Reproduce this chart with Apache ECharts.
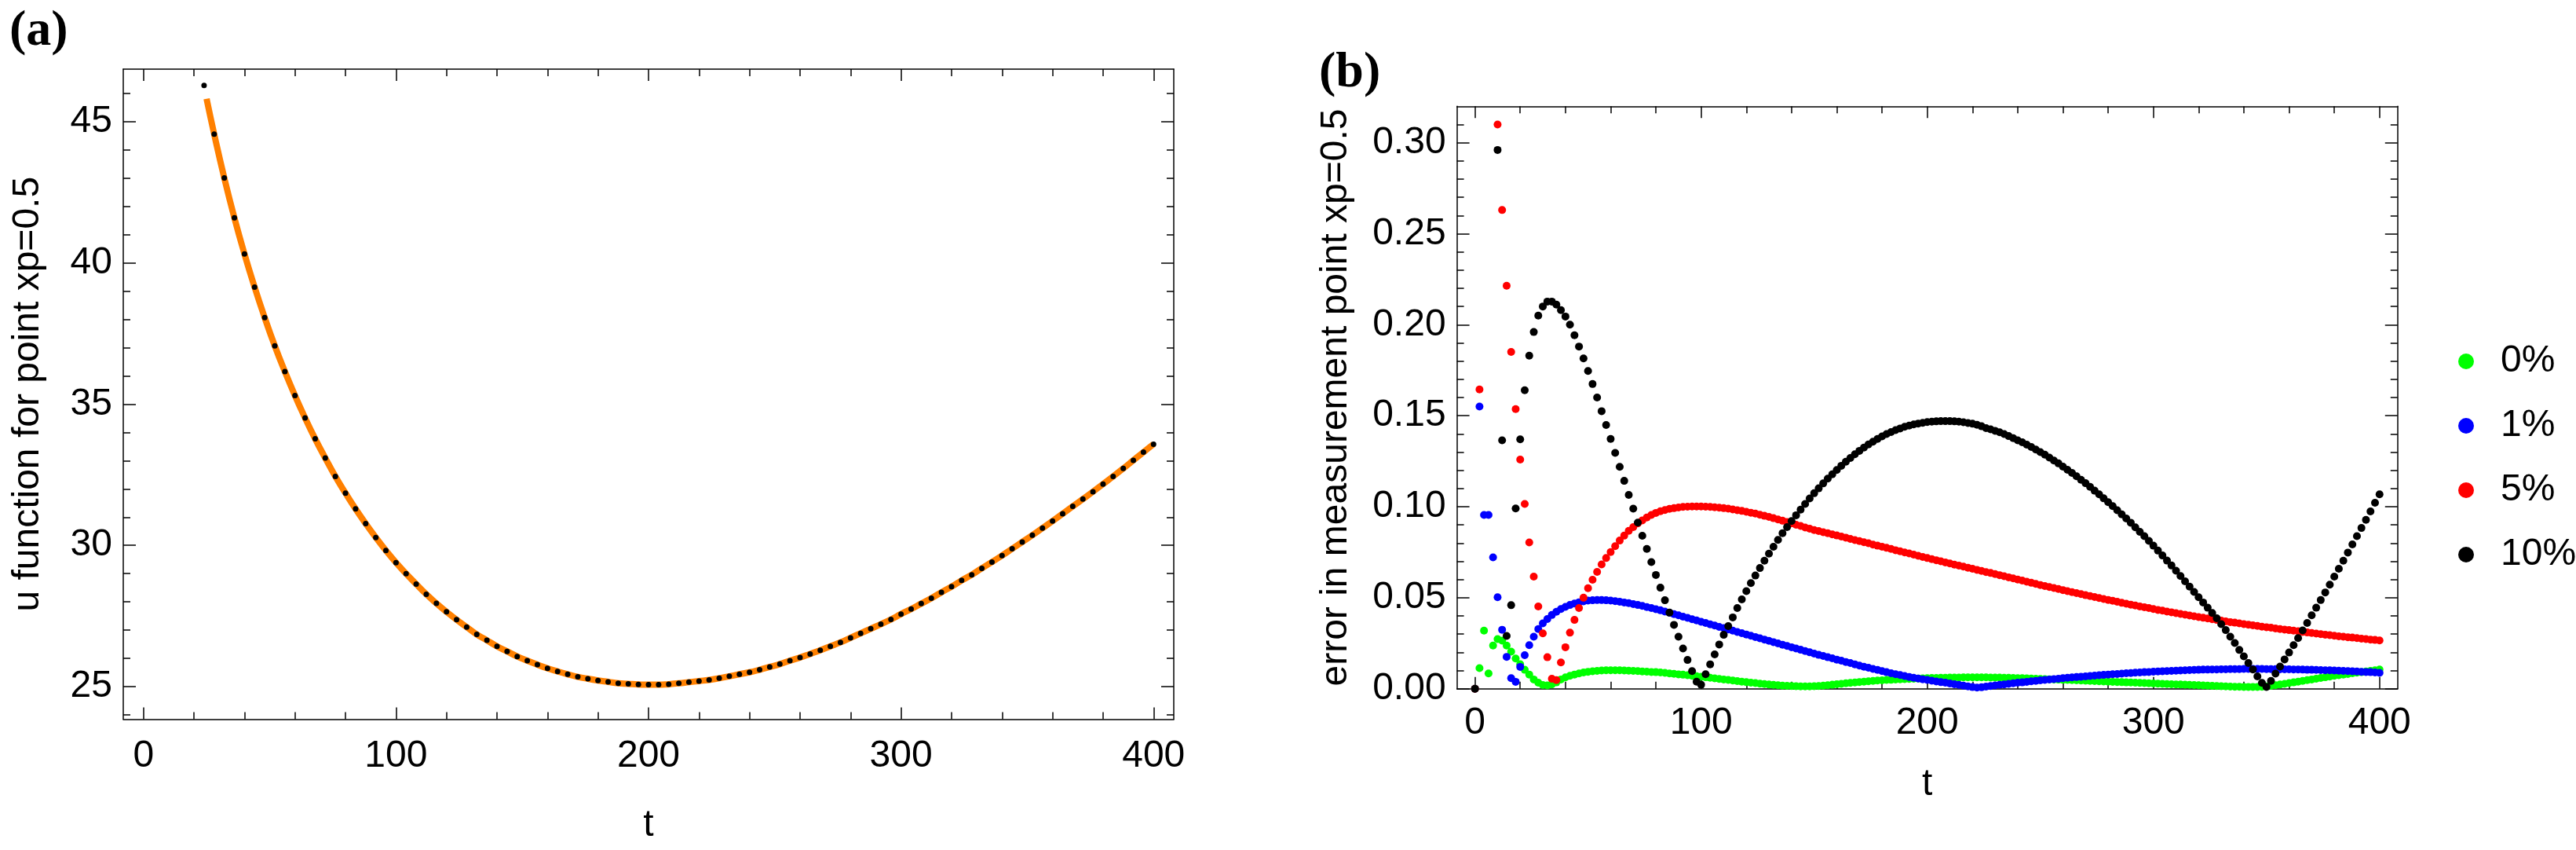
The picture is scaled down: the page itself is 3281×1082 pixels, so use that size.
<!DOCTYPE html>
<html>
<head>
<meta charset="utf-8">
<script src="https://cdn.jsdelivr.net/npm/echarts@6/dist/echarts.min.js"></script>
<style>
html,body{margin:0;padding:0;background:#fff;}
#main{width:3281px;height:1082px;}
</style>
</head>
<body>
<div id="main"></div>
<script>
// ---------- DATA ----------
// Panel (a): sampled u at xp=0.5, t = 24, 28, ..., 400
const tAStart = 24, tAStep = 4;
const uDots = [46.27,44.55,43.00,41.59,40.31,39.14,38.06,37.06,36.15,35.30,
  34.51,33.77,33.09,32.44,31.85,31.29,30.77,30.28,29.82,29.39,
  29.00,28.63,28.27,27.95,27.65,27.37,27.11,26.85,26.64,26.43,
  26.25,26.07,25.92,25.78,25.65,25.54,25.44,25.35,25.28,25.22,
  25.17,25.12,25.10,25.08,25.07,
  25.07,25.09,25.12,25.16,25.20,25.24,25.30,25.37,25.44,25.51,
  25.60,25.70,25.80,25.92,26.03,26.16,26.29,26.43,26.57,26.73,
  26.89,27.05,27.21,27.38,27.57,27.75,27.94,28.13,28.34,28.54,
  28.76,28.96,29.19,29.41,29.64,29.88,30.12,30.36,30.61,30.86,
  31.12,31.38,31.64,31.90,32.17,32.44,32.72,33.01,33.30,33.58];
const lineStart = [25, 45.80];

// Panel (b): errors, t = 0, 2, ..., 400
const tBStep = 2;
const err0 = [0,0.0113,0.0319,0.0084,0.0237,0.0273,0.0264,0.0237,0.0204,0.0166,
  0.0135,0.0104,0.0078,0.0051,0.0033,0.0020,0.0018,0.0024,0.0035,0.0051,
  0.0062,0.0071,0.0078,0.0084,0.0089,0.0093,0.0096,0.0098,0.0100,0.0101,
  0.0101,0.0101,0.0101,0.0100,0.0099,0.0098,0.0097,0.0095,0.0094,0.0092,
  0.0091,0.0089,0.0087,0.0084,0.0082,0.0079,0.0077,0.0074,0.0071,0.0069,
  0.0066,0.0063,0.0060,0.0057,0.0054,0.0051,0.0048,0.0045,0.0042,0.0039,
  0.0036,0.0033,0.0031,0.0028,0.0026,0.0023,0.0021,0.0019,0.0017,0.0016,
  0.0015,0.0014,0.0013,0.0013,0.0013,0.0014,0.0015,0.0017,0.0019,0.0022,
  0.0025,0.0027,0.0030,0.0032,0.0034,0.0037,0.0039,0.0041,0.0043,0.0045,
  0.0046,0.0048,0.0049,0.0051,0.0052,0.0053,0.0054,0.0055,0.0056,0.0057,
  0.0058,0.0059,0.0059,0.0060,0.0060,0.0061,0.0061,0.0061,0.0062,0.0062,
  0.0062,0.0062,0.0062,0.0062,0.0061,0.0061,0.0061,0.0060,0.0060,0.0059,
  0.0058,0.0058,0.0057,0.0056,0.0055,0.0054,0.0053,0.0052,0.0051,0.0050,
  0.0049,0.0048,0.0047,0.0046,0.0045,0.0044,0.0043,0.0042,0.0041,0.0040,
  0.0039,0.0038,0.0037,0.0036,0.0035,0.0034,0.0033,0.0032,0.0031,0.0030,
  0.0029,0.0028,0.0027,0.0026,0.0025,0.0024,0.0023,0.0022,0.0021,0.0020,
  0.0019,0.0018,0.0017,0.0016,0.0015,0.0014,0.0013,0.0012,0.0011,0.0011,
  0.0010,0.0010,0.0010,0.0010,0.0011,0.0013,0.0016,0.0019,0.0023,0.0027,
  0.0031,0.0035,0.0039,0.0043,0.0047,0.0051,0.0055,0.0059,0.0063,0.0067,
  0.0071,0.0074,0.0078,0.0081,0.0085,0.0088,0.0091,0.0095,0.0098,0.0101,
  0.0105];
const err1 = [0,0.155,0.0955,0.0955,0.0722,0.0503,0.0324,0.0175,0.0058,0.0038,
  0.0120,0.0184,0.0239,0.0286,0.0328,0.0359,0.0383,0.0405,0.0423,0.0438,
  0.0450,0.0460,0.0468,0.0475,0.0480,0.0484,0.0486,0.0487,0.0487,0.0486,
  0.0484,0.0481,0.0478,0.0474,0.0470,0.0465,0.0460,0.0455,0.0449,0.0443,
  0.0437,0.0431,0.0424,0.0417,0.0410,0.0403,0.0396,0.0389,0.0382,0.0375,
  0.0368,0.0361,0.0354,0.0347,0.0340,0.0333,0.0326,0.0319,0.0312,0.0305,
  0.0298,0.0291,0.0284,0.0277,0.0270,0.0263,0.0256,0.0249,0.0242,0.0235,
  0.0228,0.0221,0.0214,0.0207,0.0200,0.0193,0.0186,0.0180,0.0173,0.0167,
  0.0160,0.0154,0.0147,0.0141,0.0134,0.0127,0.0121,0.0115,0.0109,0.0103,
  0.0097,0.0091,0.0085,0.0080,0.0075,0.0070,0.0065,0.0060,0.0056,0.0052,
  0.0048,0.0044,0.0040,0.0036,0.0033,0.0029,0.0025,0.0021,0.0017,0.0013,
  0.0009,0.0006,0.0008,0.0012,0.0015,0.0018,0.0021,0.0024,0.0027,0.0030,
  0.0033,0.0035,0.0038,0.0041,0.0043,0.0046,0.0048,0.0051,0.0053,0.0055,
  0.0058,0.0060,0.0062,0.0064,0.0066,0.0068,0.0070,0.0072,0.0074,0.0076,
  0.0078,0.0080,0.0081,0.0083,0.0085,0.0086,0.0088,0.0089,0.0091,0.0092,
  0.0094,0.0095,0.0096,0.0097,0.0098,0.0099,0.0100,0.0101,0.0102,0.0103,
  0.0104,0.0105,0.0105,0.0106,0.0106,0.0107,0.0107,0.0108,0.0108,0.0108,
  0.0109,0.0109,0.0109,0.0109,0.0109,0.0108,0.0108,0.0108,0.0107,0.0107,
  0.0107,0.0106,0.0106,0.0105,0.0104,0.0104,0.0103,0.0102,0.0101,0.0101,
  0.0100,0.0099,0.0098,0.0097,0.0096,0.0095,0.0093,0.0092,0.0091,0.0089,
  0.0087];
const err5 = [0,0.1644,null,null,null,0.310,0.263,0.2214,0.185,0.1536,
  0.1259,0.1015,0.0804,0.0616,0.0452,0.0304,0.0173,0.0055,0.0047,0.0144,
  0.0228,0.0308,0.0378,0.0443,0.0500,0.0552,0.0599,0.0642,0.0683,0.0718,
  0.0751,0.0783,0.0814,0.0841,0.0867,0.0888,0.0908,0.0925,0.0941,0.0955,
  0.0966,0.0975,0.0982,0.0988,0.0992,0.0996,0.0999,0.1000,0.1001,0.1001,
  0.1001,0.1000,0.0999,0.0997,0.0995,0.0992,0.0989,0.0985,0.0981,0.0977,
  0.0972,0.0967,0.0962,0.0956,0.0950,0.0944,0.0937,0.0930,0.0923,0.0916,
  0.0908,0.0901,0.0894,0.0886,0.0879,0.0872,0.0866,0.0860,0.0854,0.0848,
  0.0842,0.0836,0.0830,0.0823,0.0817,0.0811,0.0805,0.0799,0.0792,0.0786,
  0.0780,0.0774,0.0768,0.0761,0.0755,0.0749,0.0743,0.0737,0.0730,0.0724,
  0.0718,0.0712,0.0706,0.0700,0.0694,0.0688,0.0682,0.0676,0.0671,0.0665,
  0.0659,0.0653,0.0647,0.0641,0.0636,0.0630,0.0624,0.0618,0.0612,0.0606,
  0.0600,0.0594,0.0588,0.0582,0.0576,0.0570,0.0564,0.0559,0.0553,0.0548,
  0.0542,0.0536,0.0531,0.0525,0.0520,0.0514,0.0509,0.0504,0.0498,0.0493,
  0.0488,0.0483,0.0478,0.0472,0.0467,0.0462,0.0457,0.0452,0.0448,0.0443,
  0.0438,0.0433,0.0429,0.0424,0.0420,0.0415,0.0411,0.0407,0.0402,0.0398,
  0.0394,0.0390,0.0386,0.0382,0.0378,0.0374,0.0370,0.0366,0.0363,0.0359,
  0.0355,0.0352,0.0348,0.0345,0.0341,0.0338,0.0335,0.0331,0.0328,0.0325,
  0.0322,0.0319,0.0316,0.0312,0.0309,0.0306,0.0303,0.0300,0.0297,0.0294,
  0.0291,0.0288,0.0286,0.0283,0.0281,0.0278,0.0275,0.0273,0.0270,0.0268,
  0.0265];
const err10 = [0,null,null,null,null,0.296,0.1365,0.029,0.0459,0.099,
  0.137,0.164,0.183,0.196,0.205,0.210,0.2127,0.2127,0.211,0.208,
  0.2045,0.2000,0.1942,0.1880,0.1815,0.1746,0.1674,0.1600,0.1525,0.1449,
  0.1372,0.1296,0.1219,0.1142,0.1065,0.0989,0.0913,0.0840,0.0768,0.0696,
  0.0625,0.0555,0.0486,0.0418,0.0351,0.0286,0.0221,0.0158,0.0097,0.0039,
  0.0022,0.0080,0.0134,0.0189,0.0243,0.0296,0.0344,0.0392,0.0443,0.0491,
  0.0536,0.0580,0.0622,0.0663,0.0703,0.0742,0.0780,0.0818,0.0854,0.0888,
  0.0921,0.0953,0.0984,0.1015,0.1045,0.1074,0.1101,0.1128,0.1154,0.1178,
  0.1202,0.1225,0.1247,0.1268,0.1288,0.1307,0.1325,0.1342,0.1357,0.1372,
  0.1386,0.1399,0.1410,0.1421,0.1430,0.1439,0.1446,0.1452,0.1457,0.1461,
  0.1465,0.1467,0.1469,0.1470,0.1470,0.1470,0.1469,0.1467,0.1464,0.1460,
  0.1456,0.1450,0.1442,0.1432,0.1425,0.1417,0.1409,0.1399,0.1388,0.1377,
  0.1365,0.1354,0.1341,0.1328,0.1314,0.1300,0.1286,0.1270,0.1254,0.1238,
  0.1220,0.1203,0.1186,0.1167,0.1148,0.1129,0.1109,0.1088,0.1068,0.1046,
  0.1025,0.1003,0.0981,0.0958,0.0935,0.0912,0.0887,0.0862,0.0838,0.0812,
  0.0786,0.0759,0.0732,0.0704,0.0677,0.0648,0.0619,0.0590,0.0561,0.0532,
  0.0503,0.0474,0.0445,0.0416,0.0387,0.0355,0.0322,0.0286,0.0251,0.0213,
  0.0178,0.0141,0.0106,0.0068,0.0032,0.0010,0.0043,0.0083,0.0122,0.0161,
  0.0199,0.0239,0.0278,0.0320,0.0361,0.0403,0.0445,0.0487,0.0529,0.0572,
  0.0616,0.0659,0.0703,0.0748,0.0793,0.0838,0.0883,0.0928,0.0974,0.1022,
  0.1068];
const seriesNamesB = ['0%','1%','5%','10%'];

// Tick labels
const xTicks = [0,100,200,300,400];
const yTicksA = [25,30,35,40,45];
const yTicksB = [0,0.05,0.10,0.15,0.20,0.25,0.30];
const xMinorTicks = [20,40,60,80,120,140,160,180,220,240,260,280,320,340,360,380];
const yMinorA = [24,26,27,28,29,31,32,33,34,36,37,38,39,41,42,43,44,46];
const yMinorB = [0.01,0.02,0.03,0.04,0.06,0.07,0.08,0.09,0.11,0.12,0.13,0.14,0.16,0.17,0.18,0.19,0.21,0.22,0.23,0.24,0.26,0.27,0.28,0.29,0.31];

// ---------- build pairs ----------
const dotsA = uDots.map((u,i)=>[tAStart + i*tAStep, u]);
const lineA = [lineStart].concat(dotsA.slice(1));
const pairsB = arr => arr.map((v,i)=> v===null ? [i*tBStep, null] : [i*tBStep, v]).filter(p=>p[1]!==null);

const FONT = "'Liberation Sans', Arial, Helvetica, sans-serif";
const AX = {color:'#000', width:1.5};

function xAxesFor(g, labelMargin, nameGap){
  const base = {gridIndex:g, type:'value', min:-8, max:408, splitLine:{show:false}};
  return [
    Object.assign({}, base, {position:'bottom',
      axisLine:{show:true, onZero:false, lineStyle:AX},
      axisTick:{show:true, inside:true, length:15, customValues:xTicks, lineStyle:AX},
      axisLabel:{show:true, customValues:xTicks, margin:labelMargin, fontSize:48, color:'#000', fontFamily:FONT},
      name:'t', nameLocation:'middle', nameGap:nameGap,
      nameTextStyle:{fontSize:48, color:'#000', fontFamily:FONT}}),
    Object.assign({}, base, {position:'bottom',
      axisLine:{show:false, onZero:false},
      axisTick:{show:true, inside:true, length:9, customValues:xMinorTicks, lineStyle:AX},
      axisLabel:{show:false}}),
    Object.assign({}, base, {position:'top',
      axisLine:{show:true, onZero:false, lineStyle:AX},
      axisTick:{show:true, inside:true, length:15, customValues:xTicks, lineStyle:AX},
      axisLabel:{show:false}}),
    Object.assign({}, base, {position:'top',
      axisLine:{show:false, onZero:false},
      axisTick:{show:true, inside:true, length:9, customValues:xMinorTicks, lineStyle:AX},
      axisLabel:{show:false}})
  ];
}
function yAxesFor(g, min, max, major, minor, name, nameGap, fmt){
  const base = {gridIndex:g, type:'value', min:min, max:max, splitLine:{show:false}};
  return [
    Object.assign({}, base, {position:'left',
      axisLine:{show:true, onZero:false, lineStyle:AX},
      axisTick:{show:true, inside:true, length:16, customValues:major, lineStyle:AX},
      axisLabel:{show:true, customValues:major, margin:14, fontSize:48, color:'#000', fontFamily:FONT, formatter:fmt},
      name:name, nameLocation:'middle', nameGap:nameGap,
      nameTextStyle:{fontSize:48, color:'#000', fontFamily:FONT}}),
    Object.assign({}, base, {position:'left',
      axisLine:{show:false, onZero:false},
      axisTick:{show:true, inside:true, length:9, customValues:minor, lineStyle:AX},
      axisLabel:{show:false}}),
    Object.assign({}, base, {position:'right',
      axisLine:{show:true, onZero:false, lineStyle:AX},
      axisTick:{show:true, inside:true, length:16, customValues:major, lineStyle:AX},
      axisLabel:{show:false}}),
    Object.assign({}, base, {position:'right',
      axisLine:{show:false, onZero:false},
      axisTick:{show:true, inside:true, length:9, customValues:minor, lineStyle:AX},
      axisLabel:{show:false}})
  ];
}

const chart = echarts.init(document.getElementById('main'), null, {renderer:'canvas'});
const colorsB = ['#00ff00','#0000ff','#ff0000','#000000'];
const dataB = [err0, err1, err5, err10];

const option = {
  backgroundColor:'#fff',
  animation:false,
  grid:[
    {left:157, top:88, width:1338, height:827.5},
    {left:1855.6, top:135.3, width:1198.2, height:741.4}
  ],
  xAxis: xAxesFor(0, 23, 111).concat(xAxesFor(1, 20, 98)),
  yAxis: yAxesFor(0, 23.85, 46.85, yTicksA, yMinorA, 'u function for point xp=0.5', 97, v=>String(v))
    .concat(yAxesFor(1, 0, 0.32, yTicksB, yMinorB, 'error in measurement point xp=0.5', 130, v=>Number(v).toFixed(2))),
  legend:{
    data:seriesNamesB, orient:'vertical', left:3126, top:431,
    icon:'circle', itemWidth:20, itemHeight:20, itemGap:34,
    textStyle:{fontSize:48, lineHeight:46, color:'#000', fontFamily:FONT, padding:[0,0,0,29]}
  },
  graphic:[
    {type:'text', left:12, top:8, style:{text:'(a)', font:"bold 64px 'Liberation Serif', 'Times New Roman', serif", fill:'#000'}},
    {type:'text', left:1680, top:61, style:{text:'(b)', font:"bold 64px 'Liberation Serif', 'Times New Roman', serif", fill:'#000'}}
  ],
  series:[
    {type:'line', xAxisIndex:0, yAxisIndex:0, data:lineA, smooth:true, showSymbol:false, symbol:'none',
     lineStyle:{color:'#ff8000', width:8}, itemStyle:{color:'#ff8000'}, z:2},
    {type:'scatter', xAxisIndex:0, yAxisIndex:0, data:dotsA, symbolSize:7, itemStyle:{color:'#000', opacity:1}, z:3}
  ].concat(dataB.map((d,i)=>({
    type:'scatter', name:seriesNamesB[i], xAxisIndex:4, yAxisIndex:4, data:pairsB(d),
    symbolSize:10, itemStyle:{color:colorsB[i], opacity:1}, z:3+i, clip:true
  })))
};
chart.setOption(option);
</script>
</body>
</html>
